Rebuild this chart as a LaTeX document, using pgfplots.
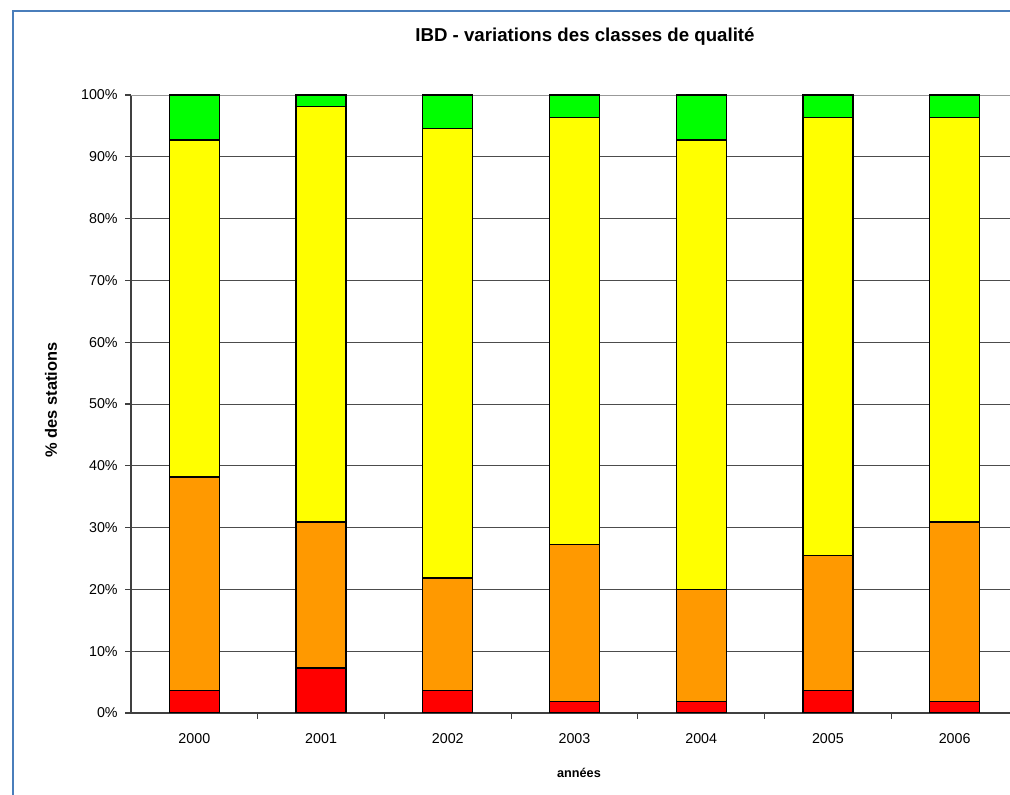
\documentclass[border=0pt]{standalone}
\usepackage{pgfplots}
\pgfplotsset{compat=1.18}
\usepackage{fontspec}
\setmainfont{Liberation Sans}
\definecolor{bordblue}{RGB}{74,126,187}
\definecolor{cred}{RGB}{255,0,0}
\definecolor{corange}{RGB}{255,153,0}
\definecolor{cyellow}{RGB}{255,255,0}
\definecolor{cgreen}{RGB}{0,255,0}
\begin{document}
\begin{tikzpicture}[x=0.75pt,y=0.75pt]
\path[use as bounding box] (0,0) rectangle (1010,795);
\clip (0,0) rectangle (1010,795);
\draw[bordblue, line width=1.8pt] (13,-10) -- (13,783.7) -- (1020,783.7);
\begin{axis}[
 at={(98.25pt,61.5pt)}, anchor=south west,
 scale only axis, width=665.25pt, height=463.5pt,
 ybar stacked, bar width=37.5pt,
 xmin=-0.5, xmax=6.5, ymin=0, ymax=100,
 axis lines*=left,
 axis line style={black!75, line width=1.2pt},
 ymajorgrids, grid style={black!70, line width=0.6pt},
 ytick={0,10,...,90},
 extra y ticks={100},
 extra y tick style={grid style={black!40, line width=0.7pt}},
 yticklabel={\pgfmathprintnumber{\tick}\%},
 xtick={0,...,6},
 xticklabels={2000,2001,2002,2003,2004,2005,2006},
 minor xtick={0.5,1.5,...,5.5},
 major x tick style={draw=none},
 minor x tick style={black!75, line width=0.8pt},
 y tick style={black!75, line width=0.8pt},
 tick align=outside,
 major tick length=4.5pt, minor tick length=4.5pt,
 ticklabel style={font=\fontsize{10.7}{12}\selectfont},
 /pgf/number format/assume math mode=true,
 xticklabel style={yshift=-7pt},
 yticklabel style={xshift=-2pt},
 every axis plot/.append style={draw=black, line width=1.05pt},
]
\addplot[fill=cred] coordinates {(0,3.636) (1,7.273) (2,3.636) (3,1.818) (4,1.818) (5,3.636) (6,1.818)};
\addplot[fill=corange] coordinates {(0,34.545) (1,23.636) (2,18.182) (3,25.455) (4,18.182) (5,21.818) (6,29.091)};
\addplot[fill=cyellow] coordinates {(0,54.545) (1,67.273) (2,72.727) (3,69.091) (4,72.727) (5,70.909) (6,65.455)};
\addplot[fill=cgreen] coordinates {(0,7.273) (1,1.818) (2,5.455) (3,3.636) (4,7.273) (5,3.636) (6,3.636)};
\end{axis}
\node[anchor=base, font=\bfseries\fontsize{14}{16}\selectfont] at (585,753) {IBD - variations des classes de qualité};
\node[anchor=base, font=\bfseries\fontsize{9.5}{11}\selectfont] at (579,17) {années};
\node[anchor=base, rotate=90, font=\bfseries\fontsize{12.3}{14}\selectfont] at (57,395) {\% des stations};
\end{tikzpicture}
\end{document}
